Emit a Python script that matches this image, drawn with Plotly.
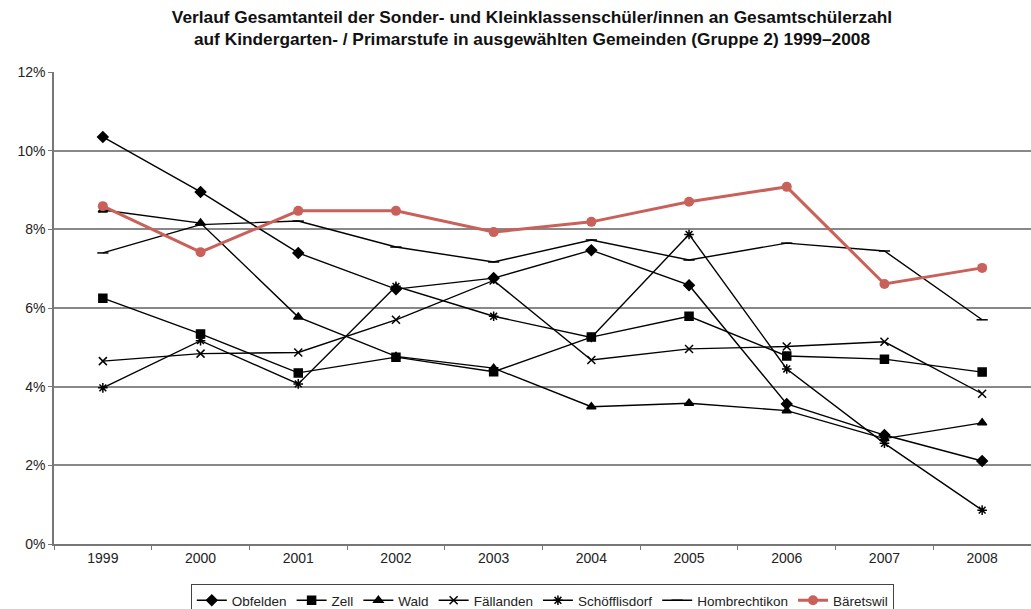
import plotly.graph_objects as go

years = ["1999", "2000", "2001", "2002", "2003", "2004", "2005", "2006", "2007", "2008"]

obfelden = [10.35, 8.95, 7.40, 6.48, 6.76, 7.47, 6.58, 3.56, 2.77, 2.11]
zell = [6.25, 5.34, 4.35, 4.75, 4.38, 5.26, 5.79, 4.78, 4.70, 4.37]
wald = [8.49, 8.16, 5.77, 4.77, 4.47, 3.49, 3.58, 3.39, 2.68, 3.08]
faellanden = [4.65, 4.84, 4.87, 5.70, 6.70, 4.68, 4.96, 5.02, 5.14, 3.82]
schoefflisdorf = [3.97, 5.17, 4.07, 6.55, 5.79, 5.25, 7.87, 4.45, 2.56, 0.86]
hombrechtikon = [7.40, 8.12, 8.21, 7.55, 7.17, 7.73, 7.22, 7.65, 7.45, 5.70]
baeretswil = [8.59, 7.42, 8.47, 8.47, 7.93, 8.19, 8.70, 9.08, 6.61, 7.02]

series = [
    ("Obfelden", obfelden, "diamond", 8),
    ("Zell", zell, "square", 8),
    ("Wald", wald, "triangle-up", 8),
    ("Fällanden", faellanden, "x-thin-open", 8),
    ("Schöfflisdorf", schoefflisdorf, "asterisk-open", 8),
    ("Hombrechtikon", hombrechtikon, "line-ew-open", 8),
]

FONT = "Liberation Sans, Arial, sans-serif"

fig = go.Figure()
for name, vals, sym, sz in series:
    fig.add_trace(go.Scatter(
        x=years, y=[v / 100 for v in vals], name=name, mode="lines+markers",
        line=dict(color="black", width=1.4),
        marker=dict(symbol=sym, size=sz, color="black",
                    line=dict(color="black", width=1.5)),
    ))
fig.add_trace(go.Scatter(
    x=years, y=[v / 100 for v in baeretswil], name="Bäretswil", mode="lines+markers",
    line=dict(color="#C9605A", width=3),
    marker=dict(symbol="circle", size=10, color="#C9605A"),
))

fig.update_layout(
    width=1031, height=609,
    paper_bgcolor="white", plot_bgcolor="white",
    margin=dict(l=54, r=0, t=72, b=65),
    font=dict(family=FONT, size=14, color="#222"),
    title=dict(
        text="Verlauf Gesamtanteil der Sonder- und Kleinklassenschüler/innen an Gesamtschülerzahl<br>"
             "auf Kindergarten- / Primarstufe in ausgewählten Gemeinden (Gruppe 2) 1999–2008",
        x=0.516, xanchor="center", xref="container", yref="container", y=0.963, yanchor="top",
        font=dict(family=FONT, size=17.3, color="#111", weight="bold"),
    ),
    showlegend=True,
    legend=dict(
        orientation="h", x=0.526, xanchor="center", xref="container",
        yref="container", y=1 - 584 / 609, yanchor="top",
        bordercolor="#444", borderwidth=1, bgcolor="white",
        font=dict(family=FONT, size=13.5, color="#222"),
        itemwidth=30, tracegroupgap=0,
    ),
)
fig.update_xaxes(
    type="category", showgrid=False, showline=True, linecolor="#777", linewidth=1.5,
    ticks="outside", tickson="boundaries", ticklen=4, tickcolor="#777",
    tickfont=dict(size=14, color="#222"), range=[-0.5, 9.5],
)
fig.update_yaxes(
    range=[0, 0.12], dtick=0.02, tickformat=".0%", showgrid=True,
    gridcolor="#888", gridwidth=1.5, showline=True, linecolor="#777", linewidth=1.5,
    ticks="outside", ticklen=4, tickcolor="#777", zeroline=False,
    tickfont=dict(size=14, color="#222"),
)

fig.write_html("out.html", config={"displayModeBar": False},
               post_script="document.body.style.margin='0px';")
